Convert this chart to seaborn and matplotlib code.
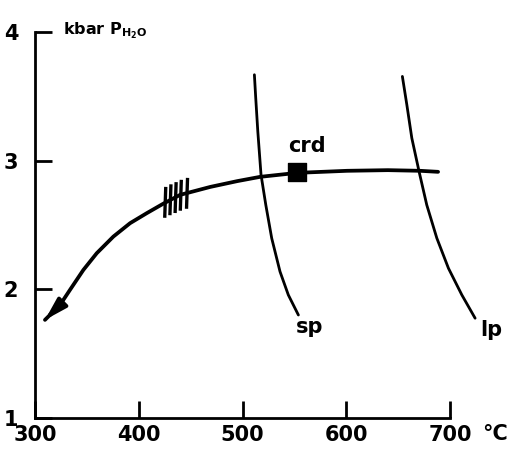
import numpy as np
import pandas as pd
import matplotlib
matplotlib.use("Agg")
import matplotlib.pyplot as plt
import seaborn as sns

# P-T path (main curve with arrow)
path_T = [309.6, 324.1, 333.7, 346.6, 359.5, 375.5, 391.6, 407.7, 423.7, 439.8, 469.0, 495.0, 516.9, 552.5, 600.7, 640.0, 671.0, 688.4]
path_P = [1.762, 1.878, 1.995, 2.150, 2.280, 2.409, 2.513, 2.591, 2.665, 2.733, 2.795, 2.840, 2.873, 2.904, 2.920, 2.925, 2.920, 2.912]
# sp reaction curve
sp_T = [511.4, 512.7, 514.7, 517.8, 522.4, 528.1, 536.1, 544.1, 553.8]
sp_P = [3.666, 3.485, 3.225, 2.889, 2.655, 2.396, 2.137, 1.956, 1.800]
# lp reaction curve
lp_T = [654.0, 658.3, 663.1, 670.1, 677.5, 687.2, 698.4, 711.3, 724.1]
lp_P = [3.653, 3.433, 3.174, 2.914, 2.655, 2.397, 2.163, 1.956, 1.775]
# crd point
crd_T = [552.0]
crd_P = [2.91]
# hatch marks on the path
hatch_T = [425, 430, 435, 440, 446]
hatch_P = [2.675, 2.695, 2.712, 2.730, 2.745]
hatch_half = 0.12

x_ticks = [300, 400, 500, 600, 700]
y_ticks = [1, 2, 3, 4]

sns.set_theme(style="white")
plt.rcParams["font.family"] = ["DejaVu Sans"]
plt.rcParams["font.weight"] = "bold"
plt.rcParams["text.color"] = "black"
plt.rcParams["axes.labelcolor"] = "black"
plt.rcParams["xtick.color"] = "black"
plt.rcParams["ytick.color"] = "black"
plt.rcParams["mathtext.fontset"] = "custom"
plt.rcParams["mathtext.rm"] = "DejaVu Sans:bold"

fig = plt.figure(figsize=(5.15, 4.54), dpi=100)
ax = fig.add_axes([35/515, 36/454, 467/515, 412/454])

lw = 2.3
path_df = pd.DataFrame({"T": path_T, "P": path_P})
sns.lineplot(data=path_df, x="T", y="P", sort=False, ax=ax, color="black", lw=lw + 0.4, estimator=None)
sns.lineplot(x=sp_T, y=sp_P, sort=False, ax=ax, color="black", lw=lw - 0.3, estimator=None)
sns.lineplot(x=lp_T, y=lp_P, sort=False, ax=ax, color="black", lw=lw - 0.3, estimator=None)
sns.scatterplot(x=crd_T, y=crd_P, ax=ax, marker="s", s=150, color="black", edgecolor="black", zorder=5)

for t, p in zip(hatch_T, hatch_P):
    ax.plot([t, t + 1], [p - hatch_half, p + hatch_half], color="black", lw=2.4, solid_capstyle="butt")

# arrowhead at the start of the path
ax.annotate("", xy=(path_T[0], path_P[0]), xytext=(path_T[1], path_P[1]),
            arrowprops=dict(arrowstyle="-|>,head_length=1.1,head_width=0.32", color="black", lw=lw + 0.4,
                            shrinkA=0, shrinkB=0))

fs = 15
ax.text(562, 3.11, "crd", fontsize=fs, ha="center", va="center", fontweight="bold", color="black")
ax.text(565, 1.71, "sp", fontsize=fs, ha="center", va="center", fontweight="bold", color="black")
ax.text(740, 1.684, "lp", fontsize=fs, ha="center", va="center", fontweight="bold", color="black")
ax.text(327, 3.98, r"kbar P$_{\mathrm{H_2O}}$", fontsize=11.5, ha="left", va="baseline",
        fontweight="bold", color="black")

ax.set_xlim(300, 750)
ax.set_ylim(1, 4.2)
ax.set_xticks(x_ticks)
ax.set_yticks(y_ticks)
ax.set_xticklabels([str(v) for v in x_ticks], fontsize=fs, fontweight="bold")
ax.set_yticklabels([str(v) for v in y_ticks], fontsize=fs, fontweight="bold")
ax.set_xlabel("")
ax.set_ylabel("")
ax.annotate("°C", xy=(743, 0), xycoords=("data", "axes fraction"), xytext=(0, -4),
            textcoords="offset points", ha="center", va="top", fontsize=fs, fontweight="bold", color="black")

for s in ["top", "right"]:
    ax.spines[s].set_visible(False)
ax.spines["left"].set_bounds(1, 4)
ax.spines["bottom"].set_bounds(300, 700)
for s in ["left", "bottom"]:
    ax.spines[s].set_linewidth(2.0)
    ax.spines[s].set_color("black")
ax.tick_params(axis="both", which="major", bottom=True, left=True, direction="in", length=12, width=2.0,
               color="black", labelcolor="black")
ax.tick_params(axis="x", pad=5)
ax.tick_params(axis="y", pad=12)
ax.patch.set_alpha(0)

fig.savefig("out.png", dpi=100, facecolor="white")
